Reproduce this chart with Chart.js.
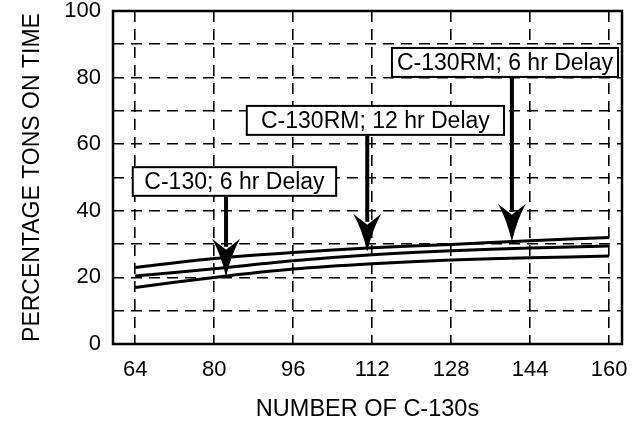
<!DOCTYPE html>
<html>
<head>
<meta charset="utf-8">
<script src="https://cdn.jsdelivr.net/npm/chart.js@4"></script>
<style>
  body { margin: 0; background: #fff; }
</style>
</head>
<body>
<canvas id="chart" width="637" height="421"></canvas>
<script>
const xValues = [64, 80, 96, 112, 128, 144, 160];
const yTicks = [0, 10, 20, 30, 40, 50, 60, 70, 80, 90, 100];

// three curves, top to bottom
const rm6Line = [23.0, 25.7, 27.5, 28.9, 29.9, 31.0, 32.0];
const rm12Line = [20.4, 22.6, 25.0, 26.8, 28.0, 28.8, 29.4];
const c130Line = [17.0, 20.0, 22.5, 24.1, 25.2, 25.9, 26.4];

// callouts: label text and where the arrow points
const noteLabels = ["C-130RM; 6 hr Delay", "C-130RM; 12 hr Delay", "C-130; 6 hr Delay"];
const noteArrowX = [140.3, 111.0, 82.4];
const noteArrowY = [30.7, 27.7, 20.2];

const FONT = "'Liberation Sans', Arial, Helvetica, sans-serif";

// box corners in axis units [left, right, top, bottom]
const noteBoxes = [
  [116.0, 161.8, 88.9, 80.2],
  [86.6, 138.7, 71.5, 62.8],
  [63.5, 104.7, 53.1, 44.5],
];

const framePlugin = {
  id: "frame",
  beforeDraw(chart) {
    const ctx = chart.ctx;
    ctx.save();
    ctx.fillStyle = "#fff";
    ctx.fillRect(0, 0, chart.width, chart.height);
    ctx.restore();
  },
  afterDraw(chart) {
    const ctx = chart.ctx;
    const a = chart.chartArea;
    const xs = chart.scales.x;
    const ys = chart.scales.y;
    ctx.save();
    ctx.strokeStyle = "#000";
    ctx.lineWidth = 2.5;
    ctx.strokeRect(a.left, a.top, a.right - a.left, a.bottom - a.top);

    for (let i = 0; i < noteLabels.length; i++) {
      const b = noteBoxes[i];
      const l = xs.getPixelForValue(b[0]);
      const r = xs.getPixelForValue(b[1]);
      const t = ys.getPixelForValue(b[2]);
      const bt = ys.getPixelForValue(b[3]);
      ctx.fillStyle = "#fff";
      ctx.fillRect(l, t, r - l, bt - t);
      ctx.lineWidth = 2;
      ctx.strokeStyle = "#000";
      ctx.strokeRect(l, t, r - l, bt - t);
      ctx.fillStyle = "#000";
      ctx.font = "23px " + FONT;
      ctx.textAlign = "center";
      ctx.textBaseline = "middle";
      ctx.fillText(noteLabels[i], (l + r) / 2, (t + bt) / 2 + 1);

      // arrow
      const ax = xs.getPixelForValue(noteArrowX[i]);
      const tipY = ys.getPixelForValue(noteArrowY[i]);
      ctx.lineWidth = 4;
      ctx.beginPath();
      ctx.moveTo(ax, bt + 1);
      ctx.lineTo(ax, tipY - 30);
      ctx.stroke();
      ctx.beginPath();
      ctx.moveTo(ax, tipY);
      ctx.quadraticCurveTo(ax - 5, tipY - 22, ax - 14, tipY - 38);
      ctx.lineTo(ax, tipY - 27);
      ctx.lineTo(ax + 14, tipY - 38);
      ctx.quadraticCurveTo(ax + 5, tipY - 22, ax, tipY);
      ctx.closePath();
      ctx.fill();
    }
    ctx.restore();
  },
};

const lineStyle = {
  borderColor: "#000",
  borderWidth: 3,
  pointRadius: 0,
  fill: false,
  tension: 0.3,
};

new Chart(document.getElementById("chart"), {
  type: "line",
  data: {
    labels: xValues,
    datasets: [
      { label: "C-130RM; 6 hr Delay", data: xValues.map((x, i) => ({ x: x, y: rm6Line[i] })), ...lineStyle },
      { label: "C-130RM; 12 hr Delay", data: xValues.map((x, i) => ({ x: x, y: rm12Line[i] })), ...lineStyle },
      { label: "C-130; 6 hr Delay", data: xValues.map((x, i) => ({ x: x, y: c130Line[i] })), ...lineStyle },
    ],
  },
  options: {
    responsive: false,
    animation: false,
    layout: { padding: { top: 11, right: 15, left: 0, bottom: 0 } },
    plugins: { legend: { display: false }, tooltip: { enabled: false } },
    scales: {
      x: {
        type: "linear",
        min: 59.5,
        max: 162.6,
        afterBuildTicks: (s) => {
          s.ticks = xValues.map((v) => ({ value: v }));
        },
        afterFit: (s) => {
          s.height = 77;
          s.paddingLeft = 0;
          s.paddingRight = 0;
        },
        grid: { color: "#000", lineWidth: 1.6, drawTicks: false },
        border: { display: false, dash: [11, 7] },
        ticks: {
          color: "#000",
          padding: 13,
          maxRotation: 0,
          font: { family: FONT, size: 22 },
        },
        title: {
          display: true,
          text: "NUMBER OF C-130s",
          color: "#000",
          font: { family: FONT, size: 23.5, lineHeight: 1 },
          padding: { top: 1, bottom: 0 },
        },
      },
      y: {
        min: 0,
        max: 100,
        afterBuildTicks: (s) => {
          s.ticks = yTicks.map((v) => ({ value: v }));
        },
        afterFit: (s) => {
          s.width = 113;
          s.paddingTop = 0;
          s.paddingBottom = 0;
        },
        grid: { color: "#000", lineWidth: 1.6, drawTicks: false },
        border: { display: false, dash: [11, 7] },
        ticks: {
          color: "#000",
          padding: 12,
          font: { family: FONT, size: 22 },
          callback: (v) => (v % 20 === 0 ? v : ""),
        },
        title: {
          display: true,
          text: "PERCENTAGE TONS ON TIME",
          color: "#000",
          font: { family: FONT, size: 23, lineHeight: 1 },
          padding: { top: 21, bottom: 0 },
        },
      },
    },
  },
  plugins: [framePlugin],
});
</script>
</body>
</html>
